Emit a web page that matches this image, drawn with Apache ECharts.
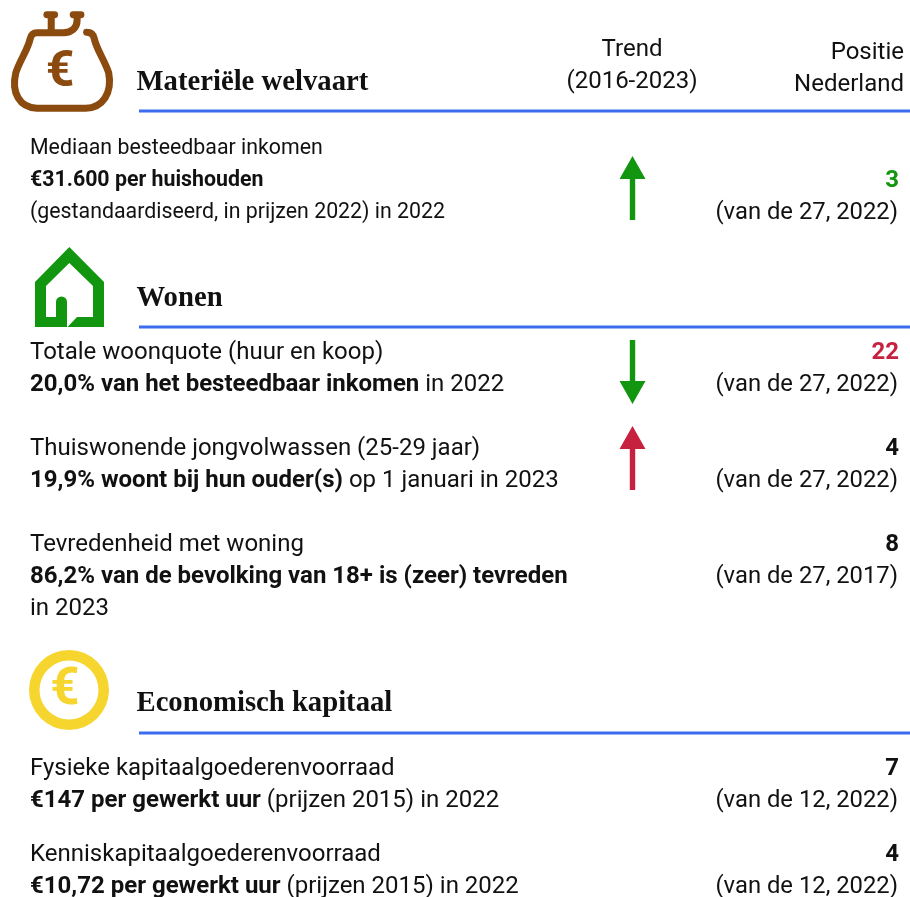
<!DOCTYPE html>
<html>
<head>
	<meta charset="utf-8">
	<title>Materiële welvaart</title>
	<script src="https://cdn.jsdelivr.net/npm/echarts@6/dist/echarts.min.js"></script>
	<style type="text/css">
		html, body { margin: 0; padding: 0; background: #fff; }
	</style>
</head>
<body>
	<div id="chart" style="width:910px;height:897px"></div>
	<script type="text/javascript">
		// kolomkoppen
		var trendHead = ['Trend', '(2016-2023)'];
		var rankHead = ['Positie', 'Nederland'];
		var sections = ['Materiële welvaart', 'Wonen', 'Economisch kapitaal'];

		// regels per indicator, {b|..} is vet
		var indicatorLines = [
			['Mediaan besteedbaar inkomen', '{b|€31.600 per huishouden}', '(gestandaardiseerd, in prijzen 2022) in 2022'],
			['Totale woonquote (huur en koop)', '{b|20,0% van het besteedbaar inkomen} in 2022'],
			['Thuiswonende jongvolwassen (25-29 jaar)', '{b|19,9% woont bij hun ouder(s)} op 1 januari in 2023'],
			['Tevredenheid met woning', '{b|86,2% van de bevolking van 18+ is (zeer) tevreden}', 'in 2023'],
			['Fysieke kapitaalgoederenvoorraad', '{b|€147 per gewerkt uur} (prijzen 2015) in 2022'],
			['Kenniskapitaalgoederenvoorraad', '{b|€10,72 per gewerkt uur} (prijzen 2015) in 2022']
		];
		var ranks = ['3', '22', '4', '8', '7', '4'];
		var rankOf = ['(van de 27, 2022)', '(van de 27, 2022)', '(van de 27, 2022)', '(van de 27, 2017)', '(van de 12, 2022)', '(van de 12, 2022)'];
		var rankState = ['good', 'bad', '', '', '', ''];
		var trendDir = ['up', 'down', 'up', '', '', ''];
		var trendState = ['good', 'good', 'bad', '', '', ''];

		// opmaak
		var rowTop = [149, 353, 449, 545, 769, 855];
		var arrowY = [188, 372, 458];
		var sectionY = [83, 299, 704];
		var ruleY = [111, 327, 733];
		var lineH = 32;
		var black = '#111';
		var stateColor = { good: '#12960f', bad: '#c6213f', '': black };
		var sans = 'Roboto';
		var serif = '"Liberation Serif"';
		var ARROW = 'path://M13 0L26 23H15.7V64H10.3V23H0Z';
		var BAG = 'path://M87 31.5C91 31.5 94 33 95 38C97 48 106 60 110 72C114 92 104 107 86 107.5H35C17 107 8 92 13 72C17 60 26 48 28 38C29 34 31 32 35 32H63C71 32 77 27 77 20V14M50 32V14M45.5 14H53.5M73 14H81';
		var HOUSE = 'path://M69.3 247L104 282V327H67.5L77 317H93V286L69.3 263L46 286V317H56V302A5.5 5.5 0 0 1 67 302V327H35V282Z';

		function txt(x, y, text, size, opt) {
			opt = opt || {};
			return {
				type: 'text', x: x, y: y, silent: true,
				style: {
					text: text, fill: opt.fill || black,
					font: (opt.bold ? 'bold ' : '') + size + 'px ' + (opt.family || sans),
					align: opt.align || 'left', verticalAlign: 'middle',
					rich: { b: { font: 'bold ' + size + 'px ' + sans, fill: black } }
				}
			};
		}

		var els = [];
		trendHead.forEach(function(t, i) { els.push(txt(632, 50 + i * lineH, t, 24, { align: 'center' })); });
		rankHead.forEach(function(t, i) { els.push(txt(904, 53 + i * lineH, t, 24, { align: 'right' })); });
		sections.forEach(function(t, i) {
			els.push(txt(136.5, sectionY[i], t, 28.7, { bold: true, family: serif }));
			els.push({ type: 'rect', shape: { x: 139, y: ruleY[i] - 1.5, width: 771, height: 3 }, style: { fill: '#3b6cf0' } });
		});
		indicatorLines.forEach(function(lines, r) {
			var size = r === 0 ? 21.33 : 24;
			lines.forEach(function(l, i) { els.push(txt(30, rowTop[r] + i * lineH, l, size)); });
			els.push(txt(899, rowTop[r] + (r === 0 ? lineH : 0), ranks[r], 24, { bold: true, align: 'right', fill: stateColor[rankState[r]] }));
			els.push(txt(898, rowTop[r] + (r === 0 ? 2 : 1) * lineH, rankOf[r], 23.8, { align: 'right' }));
		});

		// iconen
		els.push(txt(60, 73, '€', 50, { bold: true, align: 'center', fill: '#8b4a0e' }));
		els.push({ type: 'ring', shape: { cx: 69, cy: 690, r: 40, r0: 29.5 }, style: { fill: '#f7d52f' } });
		els.push(txt(65, 691, '€', 51, { bold: true, align: 'center', fill: '#f7d52f' }));

		// trendpijlen
		var arrowData = [];
		trendDir.forEach(function(d, r) {
			if (!d) return;
			arrowData.push({
				value: [632.5, arrowY[r]],
				symbolRotate: d === 'down' ? 180 : 0,
				itemStyle: { color: stateColor[trendState[r]], opacity: 1 }
			});
		});

		var myChart = echarts.init(document.getElementById('chart'));
		myChart.setOption({
			animation: false,
			grid: { left: 0, right: 0, top: 0, bottom: 0 },
			xAxis: { type: 'value', min: 0, max: 910, show: false },
			yAxis: { type: 'value', min: 0, max: 897, inverse: true, show: false },
			series: [
				{ type: 'scatter', symbol: ARROW, symbolSize: [26, 64], data: arrowData, silent: true },
				{ type: 'scatter', symbol: HOUSE, symbolSize: [69, 80], data: [[69.5, 287]], itemStyle: { color: '#12960f', opacity: 1 }, silent: true },
				{ type: 'scatter', symbol: BAG, symbolSize: [95, 93.5], data: [[62, 61.5]], itemStyle: { color: 'transparent', borderColor: '#8b4a0e', borderWidth: 7, borderCap: 'round', borderJoin: 'round', opacity: 1 }, silent: true }
			],
			graphic: { elements: els }
		});
	</script>
</body>
</html>
